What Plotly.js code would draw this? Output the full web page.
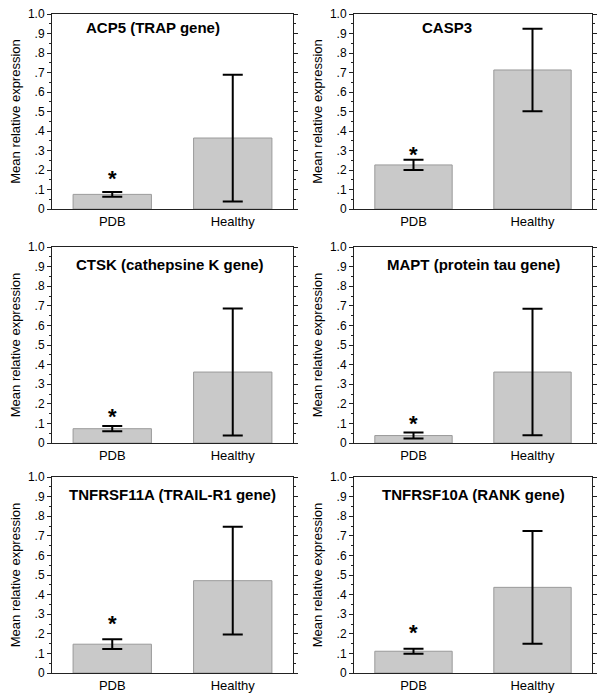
<!DOCTYPE html>
<html>
<head>
<meta charset="utf-8">
<script src="https://cdn.plot.ly/plotly-3.0.1.min.js"></script>
<style>html,body{margin:0;padding:0;background:#fff;}#chart{width:604px;height:698px;}</style>
</head>
<body>
<div id="chart"></div>
<script>
// ---- data ----
const panelTitles = ['ACP5 (TRAP gene)', 'CASP3', 'CTSK (cathepsine K gene)', 'MAPT (protein tau gene)', 'TNFRSF11A (TRAIL-R1 gene)', 'TNFRSF10A (RANK gene)'];
const categories = ['PDB', 'Healthy'];
const pdbMean = [0.075, 0.226, 0.073, 0.038, 0.147, 0.111];
const pdbErr = [0.0125, 0.026, 0.0135, 0.0155, 0.025, 0.013];
const healthyMean = [0.364, 0.713, 0.362, 0.362, 0.471, 0.437];
const healthyErr = [0.325, 0.212, 0.324, 0.323, 0.275, 0.288];
const starY = [0.18, 0.306, 0.159, 0.125, 0.28, 0.23];
const yTickVals = [0, 0.1, 0.2, 0.3, 0.4, 0.5, 0.6, 0.7, 0.8, 0.9, 1.0];
const yTickText = ['0', '.1', '.2', '.3', '.4', '.5', '.6', '.7', '.8', '.9', '1.0'];
const yAxisTitle = 'Mean relative expression';

// ---- layout geometry ----
const W = 604, H = 698;
const colX = [[52, 293], [354, 592]];
const rowY = [[14, 209], [247, 443], [477, 673]];
const titlePos = [[0.42, 0.93], [0.39, 0.93], [0.49, 0.91], [0.5, 0.91], [0.5, 0.91], [0.5, 0.91]];
const FONT = 'Arial, "Liberation Sans", sans-serif';

const traces = [];
const layout = {
  width: W, height: H,
  margin: {l: 0, r: 0, t: 0, b: 0},
  paper_bgcolor: '#fff', plot_bgcolor: '#fff',
  showlegend: false,
  font: {family: FONT, color: '#000'},
  annotations: []
};

for (let i = 0; i < 6; i++) {
  const r = Math.floor(i / 2), c = i % 2;
  const n = i === 0 ? '' : String(i + 1);
  const xa = 'x' + n, ya = 'y' + n;
  traces.push({
    type: 'bar',
    x: [0, 1],
    y: [pdbMean[i], healthyMean[i]],
    xaxis: xa, yaxis: ya,
    width: 0.65,
    marker: {color: '#c9c9c9', line: {color: '#9a9a9a', width: 1}},
    error_y: {type: 'data', array: [pdbErr[i], healthyErr[i]], visible: true, color: '#000', thickness: 2, width: 10},
    hoverinfo: 'none'
  });
  const dx = [colX[c][0] / W, colX[c][1] / W];
  const dy = [1 - rowY[r][1] / H, 1 - rowY[r][0] / H];
  layout['xaxis' + n] = {
    domain: dx, anchor: ya,
    range: [-0.5, 1.5],
    tickvals: [0, 1], ticktext: categories,
    ticks: '', showgrid: false, zeroline: false,
    showline: true, linecolor: '#222', linewidth: 1, mirror: true,
    tickfont: {size: 13, family: FONT, color: '#000'},
    fixedrange: true
  };
  layout['yaxis' + n] = {
    domain: dy, anchor: xa,
    range: [0, 1.0],
    tickvals: yTickVals, ticktext: yTickText,
    ticks: 'outside', ticklen: 4, tickwidth: 1, tickcolor: '#222',
    minor: {dtick: 0.05, tick0: 0, ticks: 'outside', ticklen: 2, tickcolor: '#222', showgrid: false},
    showgrid: false, zeroline: false,
    showline: true, linecolor: '#222', linewidth: 1, mirror: 'allticks',
    tickfont: {size: 12, family: FONT, color: '#000'},
    title: {text: yAxisTitle, font: {size: 13, family: FONT, color: '#000'}, standoff: 4},
    fixedrange: true
  };
  layout.annotations.push({
    xref: xa + ' domain', yref: ya,
    x: titlePos[i][0], y: titlePos[i][1],
    xanchor: 'center', yanchor: 'middle',
    text: '<b>' + panelTitles[i] + '</b>',
    showarrow: false,
    font: {size: 15, family: FONT, color: '#000'}
  });
  layout.annotations.push({
    xref: xa, yref: ya,
    x: 0, y: starY[i],
    xanchor: 'center', yanchor: 'middle',
    text: '<b>*</b>', showarrow: false, yshift: -5,
    font: {size: 22, family: FONT, color: '#000'}
  });
}

Plotly.newPlot('chart', traces, layout, {staticPlot: true, displayModeBar: false});
</script>
</body>
</html>
